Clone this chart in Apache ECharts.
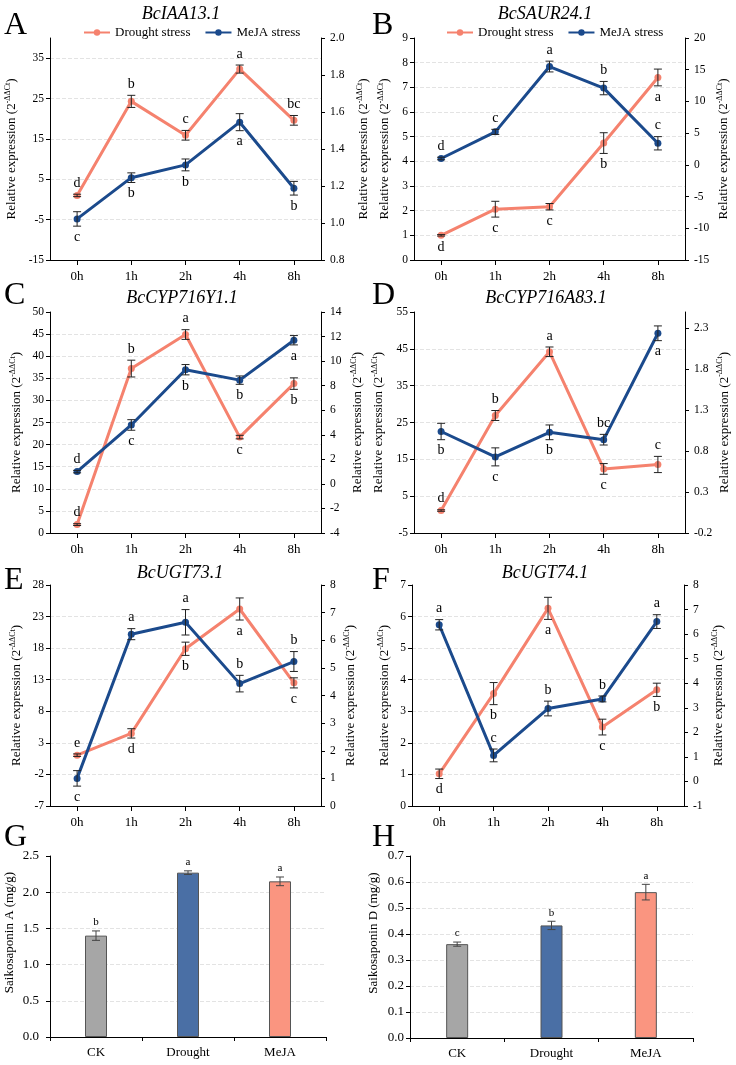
<!DOCTYPE html>
<html><head><meta charset="utf-8">
<script src="https://cdn.jsdelivr.net/npm/echarts@6/dist/echarts.min.js"></script>
<style>html,body{margin:0;padding:0;background:#fff}#c{width:736px;height:1065px}</style>
</head><body><div id="c"></div>
<script>
// ---------------- DATA ----------------
const timeCats = ['0h', '1h', '2h', '4h', '8h'];

// A  BcIAA13.1
const A_drought = [1.0, 24.3, 15.9, 32.3, 19.6];
const A_droughtErr = [0.3, 1.5, 1.2, 1.0, 1.2];
const A_droughtSig = ['d', 'b', 'c', 'a', 'bc'];
const A_droughtSide = ['above', 'above', 'above', 'above', 'above'];
const A_meja = [1.022, 1.245, 1.314, 1.545, 1.188];
const A_mejaErr = [0.039, 0.026, 0.032, 0.046, 0.037];
const A_mejaSig = ['c', 'b', 'b', 'a', 'b'];
const A_mejaSide = ['below', 'below', 'below', 'below', 'below'];

// B  BcSAUR24.1
const B_drought = [1.0, 2.06, 2.16, 4.74, 7.40];
const B_droughtErr = [0.03, 0.32, 0.13, 0.42, 0.34];
const B_droughtSig = ['d', 'c', 'c', 'b', 'a'];
const B_droughtSide = ['below', 'below', 'below', 'below', 'below'];
const B_meja = [1.0, 5.2, 15.5, 12.1, 3.4];
const B_mejaErr = [0.2, 0.4, 0.85, 1.05, 1.05];
const B_mejaSig = ['d', 'c', 'a', 'b', 'c'];
const B_mejaSide = ['above', 'above', 'above', 'above', 'above'];

// C  BcCYP716Y1.1
const C_drought = [1.9, 37.2, 44.9, 21.7, 33.8];
const C_droughtErr = [0.2, 1.9, 1.1, 0.4, 1.3];
const C_droughtSig = ['d', 'b', 'a', 'c', 'b'];
const C_droughtSide = ['above', 'above', 'above', 'below', 'below'];
const C_meja = [1.0, 4.8, 9.3, 8.45, 11.7];
const C_mejaErr = [0.1, 0.43, 0.42, 0.34, 0.38];
const C_mejaSig = ['d', 'c', 'b', 'b', 'a'];
const C_mejaSide = ['above', 'below', 'below', 'below', 'below'];

// D  BcCYP716A83.1
const D_drought = [1.1, 26.9, 44.2, 12.4, 13.6];
const D_droughtErr = [0.2, 1.35, 1.3, 1.45, 2.2];
const D_droughtSig = ['d', 'b', 'a', 'c', 'c'];
const D_droughtSide = ['above', 'above', 'above', 'below', 'above'];
const D_meja = [1.04, 0.73, 1.03, 0.94, 2.24];
const D_mejaErr = [0.1, 0.11, 0.09, 0.065, 0.09];
const D_mejaSig = ['b', 'c', 'b', 'bc', 'a'];
const D_mejaSide = ['below', 'below', 'below', 'above', 'below'];

// E  BcUGT73.1
const E_drought = [1.05, 4.5, 17.9, 24.2, 12.5];
const E_droughtErr = [0.2, 0.74, 1.05, 1.75, 0.8];
const E_droughtSig = ['e', 'd', 'b', 'a', 'c'];
const E_droughtSide = ['above', 'below', 'below', 'below', 'below'];
const E_meja = [1.0, 6.22, 6.65, 4.43, 5.23];
const E_mejaErr = [0.28, 0.2, 0.46, 0.3, 0.36];
const E_mejaSig = ['c', 'a', 'a', 'b', 'b'];
const E_mejaSide = ['below', 'above', 'above', 'above', 'above'];

// F  BcUGT74.1
const F_drought = [1.02, 3.56, 6.26, 2.5, 3.68];
const F_droughtErr = [0.15, 0.35, 0.35, 0.25, 0.21];
const F_droughtSig = ['d', 'b', 'a', 'c', 'b'];
const F_droughtSide = ['below', 'below', 'below', 'below', 'below'];
const F_meja = [6.38, 1.06, 2.97, 3.36, 6.51];
const F_mejaErr = [0.21, 0.26, 0.3, 0.12, 0.28];
const F_mejaSig = ['a', 'c', 'b', 'b', 'a'];
const F_mejaSide = ['above', 'above', 'above', 'above', 'above'];

// G / H  saikosaponin content
const barCats = ['CK', 'Drought', 'MeJA'];
const G_values = [1.40, 2.27, 2.15];
const G_err = [0.065, 0.025, 0.06];
const G_sig = ['b', 'a', 'a'];
const H_values = [0.361, 0.433, 0.561];
const H_err = [0.008, 0.016, 0.03];
const H_sig = ['c', 'b', 'a'];

const geneTitles = ['BcIAA13.1', 'BcSAUR24.1', 'BcCYP716Y1.1', 'BcCYP716A83.1', 'BcUGT73.1', 'BcUGT74.1'];
const panelLetters = ['A', 'B', 'C', 'D', 'E', 'F', 'G', 'H'];
const seriesNames = ['Drought stress', 'MeJA stress'];

// ---------------- STYLE / LAYOUT ----------------
const FONT = '"Liberation Serif", "Times New Roman", serif';
const DROUGHT_COLOR = '#F5826E';
const MEJA_COLOR = '#1B4A8C';
const BAR_COLORS = ['#A6A6A6', '#4A6FA5', '#FA9580'];

const linePanels = [
  { grid: {left: 50, top: 38, width: 271, height: 222},
    d: [A_drought, A_droughtErr, A_droughtSig, A_droughtSide], m: [A_meja, A_mejaErr, A_mejaSig, A_mejaSide],
    L: {min: -15, max: 40, interval: 10, dec: 0, gap: 30}, R: {min: 0.8, max: 2.0, interval: 0.2, dec: 1, gap: 35} },
  { grid: {left: 414, top: 38, width: 271, height: 222},
    d: [B_drought, B_droughtErr, B_droughtSig, B_droughtSide], m: [B_meja, B_mejaErr, B_mejaSig, B_mejaSide],
    L: {min: 0, max: 9, interval: 1, dec: 0, gap: 21}, R: {min: -15, max: 20, interval: 5, dec: 0, gap: 31} },
  { grid: {left: 50, top: 312, width: 271, height: 221},
    d: [C_drought, C_droughtErr, C_droughtSig, C_droughtSide], m: [C_meja, C_mejaErr, C_mejaSig, C_mejaSide],
    L: {min: 0, max: 50, interval: 5, dec: 0, gap: 25}, R: {min: -4, max: 14, interval: 2, dec: 0, gap: 29} },
  { grid: {left: 414, top: 312, width: 271, height: 221},
    d: [D_drought, D_droughtErr, D_droughtSig, D_droughtSide], m: [D_meja, D_mejaErr, D_mejaSig, D_mejaSide],
    L: {min: -5, max: 55, interval: 10, dec: 0, gap: 27}, R: {min: -0.2, max: 2.5, interval: 0.5, dec: 1, gap: 31} },
  { grid: {left: 50, top: 585, width: 271, height: 221},
    d: [E_drought, E_droughtErr, E_droughtSig, E_droughtSide], m: [E_meja, E_mejaErr, E_mejaSig, E_mejaSide],
    L: {min: -7, max: 28, interval: 5, dec: 0, gap: 25}, R: {min: 0, max: 8, interval: 1, dec: 0, gap: 22} },
  { grid: {left: 412, top: 585, width: 272, height: 221},
    d: [F_drought, F_droughtErr, F_droughtSig, F_droughtSide], m: [F_meja, F_mejaErr, F_mejaSig, F_mejaSide],
    L: {min: 0, max: 7, interval: 1, dec: 0, gap: 19}, R: {min: -1, max: 8, interval: 1, dec: 0, gap: 27} }
];
const barPanels = [
  { grid: {left: 50, top: 856, width: 276, height: 181}, v: G_values, e: G_err, s: G_sig,
    Y: {min: 0, max: 2.5, interval: 0.5, dec: 1, gap: 34}, name: 'Saikosaponin A (mg/g)' },
  { grid: {left: 410, top: 856, width: 283, height: 182}, v: H_values, e: H_err, s: H_sig,
    Y: {min: 0, max: 0.7, interval: 0.1, dec: 1, gap: 30}, name: 'Saikosaponin D (mg/g)' }
];
const titlePos = [[181, 14], [545, 14], [182, 298], [546, 298], [180, 573], [545, 573]];
const letterPos = [[4, 26], [372, 26], [4, 296], [372, 296], [4, 581], [372, 581], [4, 838], [372, 838]];

const grids = [], xAxes = [], yAxes = [], series = [], graphics = [];

const nameRich = {
  n: {fontFamily: FONT, fontSize: 13, color: '#000', lineHeight: 16},
  s: {fontFamily: FONT, fontSize: 8, color: '#000', lineHeight: 9, verticalAlign: 'top'}
};

function valueAxis(gi, cfg, pos, showSplit, labelSize, margin, nameOpt) {
  const steps = (cfg.max - cfg.min) / cfg.interval;
  const maxIsTick = Math.abs(steps - Math.round(steps)) < 1e-9;
  const ax = {
    type: 'value', gridIndex: gi, position: pos, min: cfg.min, max: cfg.max, interval: cfg.interval,
    axisLine: {show: true, lineStyle: {color: '#000', width: 1}},
    axisTick: {show: true, length: 4, lineStyle: {color: '#000'}},
    axisLabel: {fontFamily: FONT, fontSize: labelSize, color: '#000', margin: margin, showMaxLabel: maxIsTick,
      formatter: v => Number(v).toFixed(cfg.dec)},
    splitLine: {show: showSplit, showMaxLine: false, showMinLine: false, lineStyle: {color: '#e3e3e3', type: 'dashed', width: 1}},
    nameLocation: 'middle', nameRotate: 90, nameGap: cfg.gap
  };
  Object.assign(ax, nameOpt);
  return ax;
}

function errSeries(xi, yi, vals, errs, sigs, sides, o) {
  return {
    type: 'custom', xAxisIndex: xi, yAxisIndex: yi, z: o.z, silent: true,
    data: vals.map((v, i) => [i, v, errs[i]]),
    encode: {x: 0, y: 1},
    renderItem: (params, api) => {
      const i = params.dataIndex;
      const x = api.value(0), v = api.value(1), e = api.value(2);
      const top = api.coord([x, v + e]), bot = api.coord([x, v - e]);
      const cx = top[0], hw = o.cap / 2;
      const st = {stroke: o.color, lineWidth: 1};
      const ch = [];
      if (e > 0) {
        ch.push({type: 'line', shape: {x1: cx, y1: top[1], x2: cx, y2: bot[1]}, style: st});
        ch.push({type: 'line', shape: {x1: cx - hw, y1: top[1], x2: cx + hw, y2: top[1]}, style: st});
        ch.push({type: 'line', shape: {x1: cx - hw, y1: bot[1], x2: cx + hw, y2: bot[1]}, style: st});
      }
      const above = sides ? sides[i] === 'above' : true;
      ch.push({type: 'text', x: cx, y: above ? top[1] - o.gap : bot[1] + o.gap,
        style: {text: sigs[i], fill: '#000', fontFamily: FONT, fontSize: o.font,
          align: 'center', verticalAlign: above ? 'bottom' : 'top'}});
      return {type: 'group', children: ch};
    }
  };
}

linePanels.forEach((p, gi) => {
  grids.push(Object.assign({outerBoundsMode: 'none', containLabel: false}, p.grid));
  xAxes.push({
    type: 'category', gridIndex: gi, data: timeCats, boundaryGap: true,
    axisLine: {onZero: false, lineStyle: {color: '#000', width: 1}},
    axisTick: {show: true, alignWithLabel: true, length: 5, lineStyle: {color: '#000'}},
    axisLabel: {fontFamily: FONT, fontSize: 13, color: '#000', margin: 10},
    splitLine: {show: false}
  });
  const li = yAxes.length;
  yAxes.push(valueAxis(gi, p.L, 'left', true, 11.5, 6,
    {name: '{n|Relative expression (2}{s|-ΔΔCt}{n|)}', nameTextStyle: {rich: nameRich}}));
  yAxes.push(valueAxis(gi, p.R, 'right', false, 11.5, 9,
    {name: '{n|Relative expression (2}{s|-ΔΔCt}{n|)}', nameTextStyle: {rich: nameRich}}));
  const sets = [[p.d, DROUGHT_COLOR, li, seriesNames[0]], [p.m, MEJA_COLOR, li + 1, seriesNames[1]]];
  sets.forEach(([arr, color, yi, name]) => {
    series.push({
      type: 'line', name: name, xAxisIndex: gi, yAxisIndex: yi, data: arr[0], z: 3,
      symbol: 'circle', symbolSize: 7, showSymbol: true,
      lineStyle: {color: color, width: 3}, itemStyle: {color: color}, emphasis: {disabled: true}
    });
    series.push(errSeries(gi, yi, arr[0], arr[1], arr[2], arr[3], {z: 4, cap: 8, gap: 4, font: 14, color: '#222'}));
  });
});

barPanels.forEach((p, k) => {
  const gi = grids.length;
  grids.push(Object.assign({outerBoundsMode: 'none', containLabel: false}, p.grid));
  xAxes.push({
    type: 'category', gridIndex: gi, data: barCats, boundaryGap: true,
    axisLine: {onZero: false, lineStyle: {color: '#000', width: 1}},
    axisTick: {show: true, alignWithLabel: false, length: 4, lineStyle: {color: '#000'}},
    axisLabel: {fontFamily: FONT, fontSize: 13, color: '#000', margin: 9},
    splitLine: {show: false}
  });
  const yi = yAxes.length;
  yAxes.push(valueAxis(gi, p.Y, 'left', true, 13, k === 0 ? 11 : 6,
    {name: p.name, nameTextStyle: {fontFamily: FONT, fontSize: 13, color: '#000', padding: [0, 0, 0, 28]}}));
  series.push({
    type: 'bar', xAxisIndex: gi, yAxisIndex: yi, barWidth: 22, z: 2,
    data: p.v.map((v, i) => ({value: v, itemStyle: {color: BAR_COLORS[i]}})),
    itemStyle: {borderColor: '#555', borderWidth: 1}, emphasis: {disabled: true}
  });
  series.push(errSeries(gi, yi, p.v, p.e, p.s, null, {z: 4, cap: 8, gap: 3, font: 11, color: '#444'}));
});

geneTitles.forEach((t, i) => {
  graphics.push({type: 'text', x: titlePos[i][0], y: titlePos[i][1],
    style: {text: t, fill: '#000', fontFamily: FONT, fontStyle: 'italic', fontSize: 18, align: 'center', verticalAlign: 'middle'}});
});
panelLetters.forEach((t, i) => {
  graphics.push({type: 'text', x: letterPos[i][0], y: letterPos[i][1],
    style: {text: t, fill: '#000', fontFamily: FONT, fontSize: 32, align: 'left', verticalAlign: 'middle'}});
});

const legendBase = {
  data: seriesNames, itemWidth: 26, itemHeight: 8, itemGap: 14, selectedMode: false,
  textStyle: {fontFamily: FONT, fontSize: 13, color: '#000'}, padding: 0
};

const chart = echarts.init(document.getElementById('c'), null, {renderer: 'canvas'});
chart.setOption({
  animation: false,
  backgroundColor: '#fff',
  legend: [
    Object.assign({left: 83, top: 26}, legendBase),
    Object.assign({left: 446, top: 26}, legendBase)
  ],
  grid: grids, xAxis: xAxes, yAxis: yAxes, series: series, graphic: graphics
});
</script></body></html>
